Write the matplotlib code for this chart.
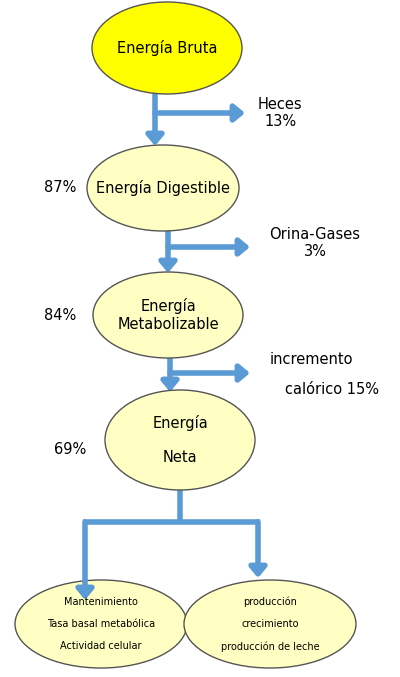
import matplotlib.pyplot as plt
from matplotlib.patches import Ellipse

node_labels = ["Energía Bruta", "Energía Digestible", "Energía\nMetabolizable", "Energía\n\nNeta",
               "Mantenimiento\n\nTasa basal metabólica\n\nActividad celular",
               "producción\n\ncrecimiento\n\nproducción de leche"]
pct_labels = ["87%", "84%", "69%"]
loss_labels = ["Heces\n13%", "Orina-Gases\n3%"]

fig = plt.figure(figsize=(4.0, 6.77), dpi=100)
ax = fig.add_axes([0, 0, 1, 1])
ax.set_xlim(0, 400); ax.set_ylim(677, 0); ax.axis('off')

nodes = [((167, 48), 150, 92, '#FFFF00', 10.5),
         ((163, 188), 152, 86, '#FFFFC4', 10.5),
         ((168, 315), 150, 86, '#FFFFC4', 10.5),
         ((180, 440), 150, 100, '#FFFFC4', 10.5),
         ((101, 624), 172, 88, '#FFFFC4', 7),
         ((270, 624), 172, 88, '#FFFFC4', 7)]
for (c, w, h, col, fs), lab in zip(nodes, node_labels):
    ax.add_patch(Ellipse(c, w, h, facecolor=col, edgecolor='#555555', lw=1, zorder=2))
    ax.text(c[0], c[1], lab, ha='center', va='center', fontsize=fs, zorder=4,
            linespacing=1.15 if fs < 10 else 1.2)

blue = '#5B9BD5'
lw = 4
def arrow(x0, y0, x1, y1, z=1):
    ax.annotate('', xy=(x1, y1), xytext=(x0, y0),
                arrowprops=dict(arrowstyle='-|>,head_width=0.5,head_length=0.6', color=blue, lw=lw, shrinkA=0, shrinkB=0), zorder=z)
def line(xs, ys):
    ax.plot(xs, ys, color=blue, lw=lw, solid_capstyle='butt', zorder=1)

arrow(155, 94, 155, 146); arrow(155, 113, 245, 113)
arrow(168, 231, 168, 273); arrow(168, 247, 250, 247)
arrow(170, 358, 170, 392); arrow(170, 373, 250, 373)
line([180, 180], [490, 522]); line([83, 260], [522, 522])
arrow(85, 522, 85, 600, z=3); arrow(258, 522, 258, 578)

for t, y, x in zip(pct_labels, [188, 315, 450], [60, 60, 70]):
    ax.text(x, y, t, ha='center', va='center', fontsize=10.5)
ax.text(280, 113, loss_labels[0], ha='center', va='center', fontsize=10.5)
ax.text(315, 243, loss_labels[1], ha='center', va='center', fontsize=10.5)
ax.text(270, 360, "incremento", ha='left', va='center', fontsize=10.5)
ax.text(285, 390, "calórico 15%", ha='left', va='center', fontsize=10.5)

fig.savefig('out.png', dpi=100)
